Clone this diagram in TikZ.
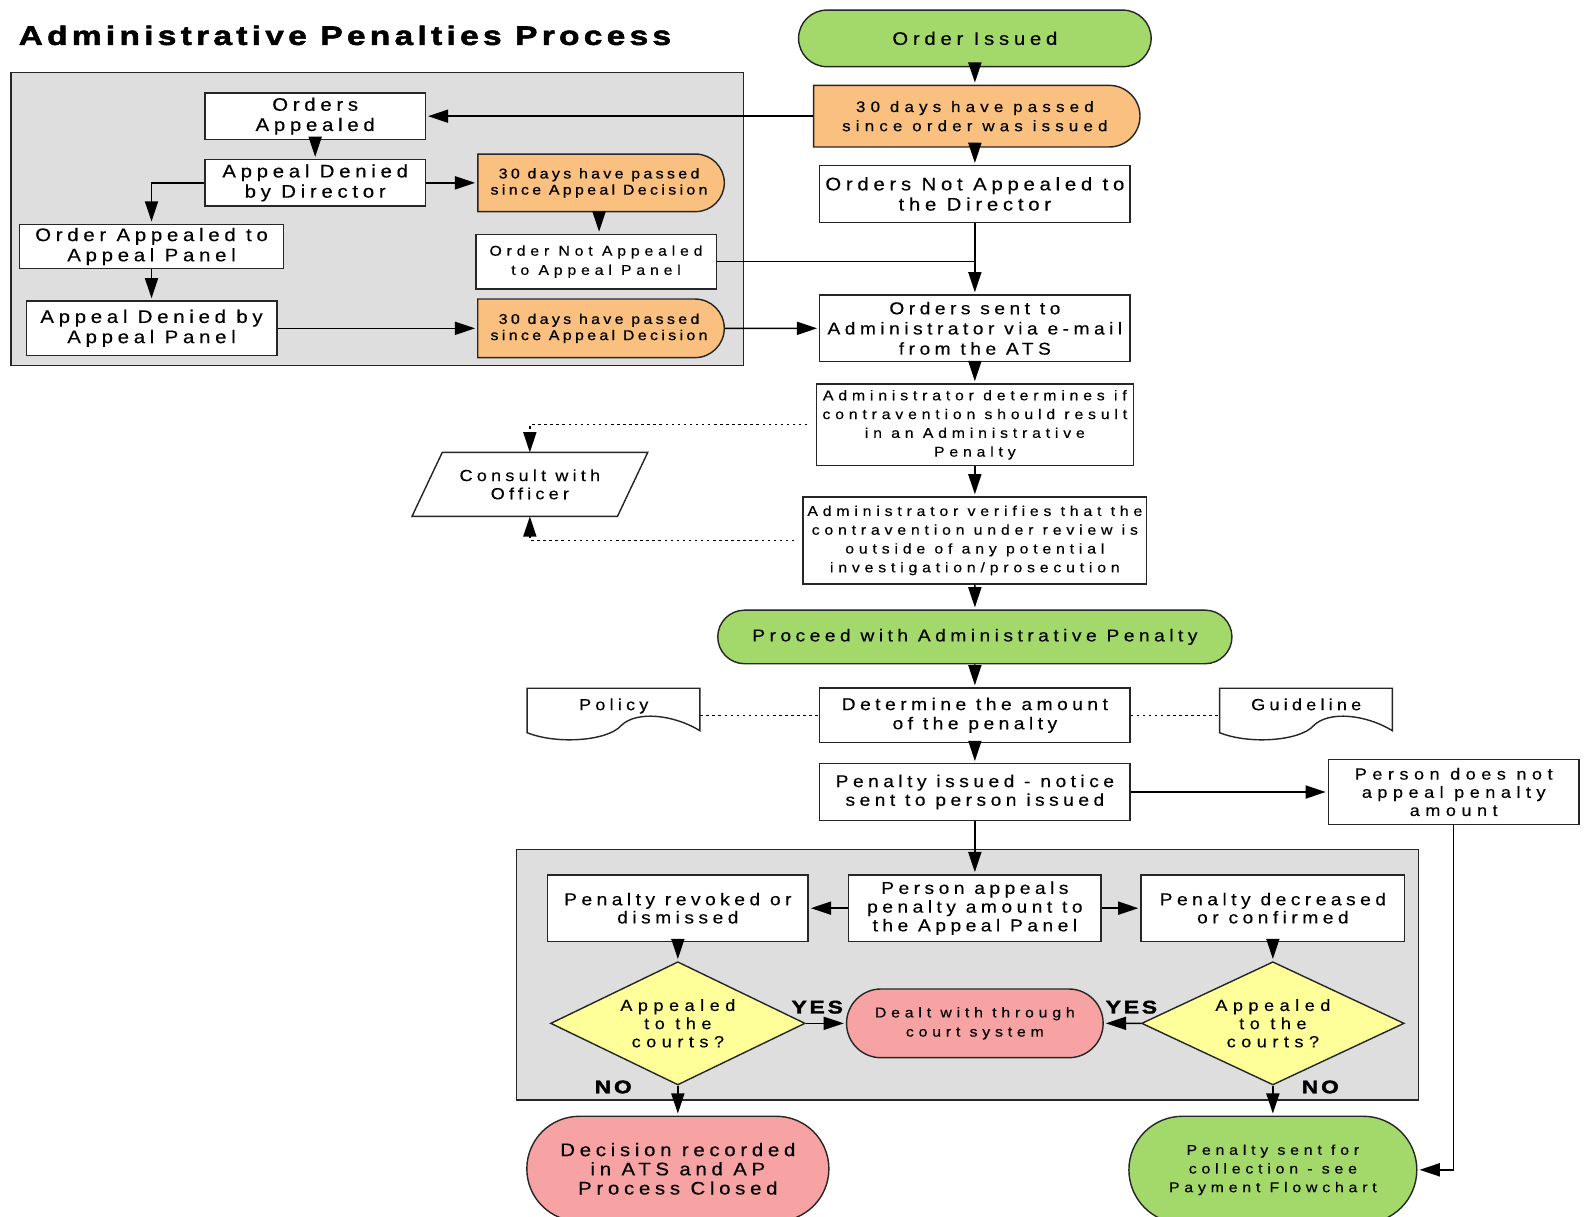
\documentclass[tikz,border=0pt]{standalone}
\usepackage{fontspec}
\setmainfont{Liberation Sans}
\newfontfamily\boxfont[FakeStretch=1.12,LetterSpace=26,FakeBold=0.3]{Liberation Sans}
\newfontfamily\widefont[FakeStretch=1.12,LetterSpace=34,FakeBold=0.3]{Liberation Sans}
\newfontfamily\tightfont[FakeStretch=1.12,LetterSpace=24,FakeBold=0.8]{Liberation Sans}
\newfontfamily\titlefont[FakeStretch=1.25,LetterSpace=16,FakeBold=2]{Liberation Sans}
\usetikzlibrary{shapes.misc}
\usetikzlibrary{shapes.geometric}
\usetikzlibrary{arrows.meta}
\definecolor{startgreen}{HTML}{A3D96B}
\definecolor{waitorange}{HTML}{FAC080}
\definecolor{courtred}{HTML}{F7A3A3}
\definecolor{askyellow}{HTML}{FFFF99}
\definecolor{panelgray}{HTML}{DEDEDE}

\tikzset{
	shapeline/.style={draw=black!85,line width=1.4pt},
	panel/.style={shapeline,fill=panelgray,inner sep=0pt},
	stepbox/.style={shapeline,fill=white,inner sep=0pt,align=center},
	endpoint/.style={rounded rectangle,shapeline,inner sep=0pt,align=center},
	waitbox/.style={rounded rectangle,rounded rectangle left arc=none,shapeline,fill=waitorange,inner sep=0pt,align=center},
	askbox/.style={diamond,aspect=2,shapeline,fill=askyellow,inner sep=0pt,align=center},
	docbox/.style={inner sep=0pt,minimum width=171pt,text height=21.5pt,text depth=31.5pt,align=center},
	answer/.style={font=\titlefont\bfseries\fontsize{18}{20}\selectfont,inner sep=0pt},
	flow/.style={line width=1.4pt,-{Triangle[length=20pt,width=13pt]},shorten >=2pt},
	hint/.style={line width=1.3pt,dash pattern=on 2.5pt off 3.5pt},
	bigtext/.style={font=\boxfont\fontsize{18}{20}\selectfont},
	midtext/.style={font=\boxfont\fontsize{17}{18.5}\selectfont},
	smalltext/.style={font=\widefont\fontsize{14}{18.6}\selectfont},
	tighttext/.style={font=\tightfont\fontsize{14}{16}\selectfont}
}

% document symbol drawn round a docbox node
\newcommand\docoutline[1]{%
	\begin{scope}[shift={(#1.north west)}]
		\draw[shapeline] (0,0) -- (171,0) -- (171,42)
			.. controls (145,26) and (108,22) .. (93,37)
			.. controls (80,52) and (30,56) .. (0,44) -- cycle;
	\end{scope}}

\begin{document}
\begin{tikzpicture}[x=1pt,y=-1pt]
	\clip (0,0) rectangle (1568,1204);
	\fill[white] (0,0) rectangle (1568,1204);

	\node[anchor=west,font=\titlefont\bfseries\fontsize{26.5}{30}\selectfont] (title) at (15,35) {Administrative Penalties Process};

	% panels
	\node[panel,minimum width=725pt,minimum height=290pt] (appealpanel) at (373.5,217) {};
	\node[panel,minimum width=893pt,minimum height=248pt] (courtpanel) at (957.5,965) {};

	% main column
	\node[endpoint,fill=startgreen,bigtext,minimum width=349pt,minimum height=56pt] (issued) at (965,38) {Order Issued};
	\node[waitbox,font=\widefont\fontsize{15}{19}\selectfont,minimum width=323pt,minimum height=61pt] (wait1) at (965,115) {30 days have passed\\since order was issued};
	\node[stepbox,bigtext,minimum width=307pt,minimum height=56pt] (notdir) at (965,192) {Orders Not Appealed to\\the Director};
	\node[stepbox,font=\boxfont\fontsize{17}{20}\selectfont,minimum width=307pt,minimum height=66pt] (sent) at (965,325) {Orders sent to\\Administrator via e-mail\\from the ATS};
	\node[stepbox,smalltext,minimum width=314pt,minimum height=81pt] (determ) at (965,420.5) {Administrator determines if\\contravention should result\\in an Administrative\\Penalty};
	\node[stepbox,smalltext,minimum width=340pt,minimum height=86pt] (verify) at (965,535) {Administrator verifies that the\\contravention under review is\\outside of any potential\\investigation/prosecution};
	\node[endpoint,fill=startgreen,midtext,minimum width=509pt,minimum height=53pt] (proceed) at (965,630.5) {Proceed with Administrative Penalty};
	\node[stepbox,font=\boxfont\fontsize{17}{19}\selectfont,minimum width=307pt,minimum height=54pt] (amount) at (965,708) {Determine the amount\\of the penalty};
	\node[stepbox,midtext,minimum width=307pt,minimum height=56pt] (penalty) at (965,784) {Penalty issued - notice\\sent to person issued};
	\node[stepbox,font=\widefont\fontsize{16}{18}\selectfont,minimum width=248pt,minimum height=64pt] (noappeal) at (1439,784) {Person does not\\appeal penalty\\amount};

	% appeals before the order
	\node[stepbox,bigtext,minimum width=218pt,minimum height=46pt] (appealed) at (312,115) {Orders\\Appealed};
	\node[stepbox,bigtext,minimum width=218pt,minimum height=46pt] (denied) at (312,181) {Appeal Denied\\by Director};
	\node[stepbox,bigtext,minimum width=261pt,minimum height=44pt] (topanel) at (150,244) {Order Appealed to\\Appeal Panel};
	\node[stepbox,bigtext,minimum width=248pt,minimum height=54pt] (deniedpanel) at (150,325) {Appeal Denied by\\Appeal Panel};
	\node[waitbox,tighttext,minimum width=244pt,minimum height=57pt] (wait2) at (593,181) {30 days have passed\\since Appeal Decision};
	\node[stepbox,font=\widefont\fontsize{14}{19}\selectfont,minimum width=238pt,minimum height=54pt] (notpanel) at (590,259) {Order Not Appealed\\to Appeal Panel};
	\node[waitbox,tighttext,minimum width=244pt,minimum height=58pt] (wait3) at (593,325) {30 days have passed\\since Appeal Decision};

	% side inputs
	\node[inner sep=0pt,align=center,font=\boxfont\fontsize{16}{18}\selectfont,minimum width=233pt,minimum height=63pt] (consult) at (524.5,479.5) {Consult with\\Officer};
	\draw[shapeline] ([xshift=30pt]consult.north west) -- (consult.north east) -- ([xshift=-30pt]consult.south east) -- (consult.south west) -- cycle;
	\node[docbox,font=\boxfont\fontsize{16}{18}\selectfont] (policy) at (607.5,708) {Policy};
	\docoutline{policy}
	\node[docbox,font=\boxfont\fontsize{16}{18}\selectfont] (guideline) at (1293,708) {Guideline};
	\docoutline{guideline}

	% appeal panel outcomes
	\node[stepbox,midtext,minimum width=250pt,minimum height=66pt] (appeals) at (965,899) {Person appeals\\penalty amount to\\the Appeal Panel};
	\node[stepbox,font=\boxfont\fontsize{17}{18}\selectfont,minimum width=258pt,minimum height=66pt] (revoked) at (671,899) {Penalty revoked or\\dismissed};
	\node[stepbox,font=\boxfont\fontsize{17}{18}\selectfont,minimum width=261pt,minimum height=66pt] (decreased) at (1260,899) {Penalty decreased\\or confirmed};
	\node[askbox,font=\widefont\fontsize{16}{18}\selectfont,minimum width=252pt,minimum height=122pt] (askleft) at (671,1013) {Appealed\\to the\\courts?};
	\node[askbox,font=\widefont\fontsize{16}{18}\selectfont,minimum width=260pt,minimum height=122pt] (askright) at (1260,1013) {Appealed\\to the\\courts?};
	\node[endpoint,fill=courtred,font=\widefont\fontsize{14}{19}\selectfont,minimum width=254pt,minimum height=68pt] (court) at (965,1013) {Dealt with through\\court system};
	\node[endpoint,fill=courtred,font=\boxfont\fontsize{18}{19}\selectfont,minimum width=299pt,minimum height=104pt] (closed) at (671,1157) {Decision recorded\\in ATS and AP\\Process Closed};
	\node[endpoint,fill=startgreen,font=\widefont\fontsize{14}{18.5}\selectfont,minimum width=285pt,minimum height=106pt] (collect) at (1260,1158) {Penalty sent for\\collection - see\\Payment Flowchart};

	\node[answer] (yesleft) at (809,997) {YES};
	\node[answer] (yesright) at (1120,997) {YES};
	\node[answer] (noleft) at (607,1076) {NO};
	\node[answer] (noright) at (1307,1076) {NO};

	% connectors
	\draw[flow] (issued) -- (wait1);
	\draw[flow] (wait1) -- (notdir);
	\draw[flow] (wait1.west) -- (appealed.east);
	\draw[flow] (appealed) -- (denied);
	\draw[flow] (denied) -- (wait2);
	\draw[flow] (denied.west) -| (topanel.north);
	\draw[flow] (wait2.south) -- (wait2.south |- notpanel.north);
	\draw[flow] (topanel) -- (deniedpanel);
	\draw[flow] (deniedpanel) -- (wait3);
	\draw[flow] (wait3) -- (sent);
	\draw[line width=1.4pt] (notpanel.east) -- (notpanel.east -| notdir.south);
	\draw[flow] (notdir) -- (sent);
	\draw[flow] (sent) -- (determ);
	\draw[flow] (determ) -- (verify);
	\draw[flow] (verify) -- (proceed);
	\draw[flow] (proceed) -- (amount);
	\draw[flow] (amount) -- (penalty);
	\draw[hint,-{Triangle[length=20pt,width=13pt]},shorten <=8pt] (determ.west) -| (consult.north);
	\draw[hint,-{Triangle[length=20pt,width=13pt]},shorten <=8pt] (verify.west) -| (consult.south);
	\draw[hint] (policy.east) -- (amount.west);
	\draw[hint] (amount.east) -- (guideline.west);
	\draw[flow] (penalty) -- (noappeal);
	\draw[flow] (noappeal.south) |- (collect.east);
	\draw[flow] (penalty) -- (appeals);
	\draw[flow] (appeals) -- (revoked);
	\draw[flow] (appeals) -- (decreased);
	\draw[flow] (revoked) -- (askleft);
	\draw[flow] (decreased) -- (askright);
	\draw[flow] (askleft) -- (court);
	\draw[flow] (askright) -- (court);
	\draw[flow] (askleft) -- (closed);
	\draw[flow] (askright) -- (collect);
\end{tikzpicture}
\end{document}
